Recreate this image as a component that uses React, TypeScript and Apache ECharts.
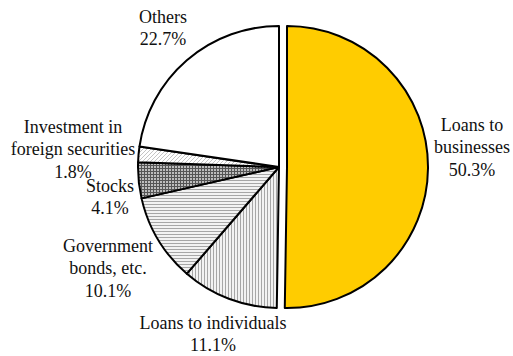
import React, { useEffect, useRef } from "react";
import * as echarts from "echarts";

const categories = [
  "Loans to\nbusinesses",
  "Loans to individuals",
  "Government\nbonds, etc.",
  "Stocks",
  "Investment in\nforeign securities",
  "Others",
];
const values = [50.3, 11.1, 10.1, 4.1, 1.8, 22.7];
const labelCenters: [number, number][] = [
  [472, 147],
  [213, 334],
  [108, 268],
  [110, 197],
  [73, 149],
  [163, 28],
];

function makePattern(kind: string): any {
  const c = document.createElement("canvas");
  const ctx = c.getContext("2d")!;
  if (kind === "v" || kind === "h") {
    c.width = 3;
    c.height = 3;
    ctx.fillStyle = "#f2f2f2";
    ctx.fillRect(0, 0, 3, 3);
    ctx.fillStyle = "#a6a6a6";
    if (kind === "v") ctx.fillRect(0, 0, 1, 3);
    else ctx.fillRect(0, 0, 3, 1);
  } else if (kind === "grid") {
    c.width = 3;
    c.height = 3;
    ctx.fillStyle = "#bdbdbd";
    ctx.fillRect(0, 0, 3, 3);
    ctx.fillStyle = "#555555";
    ctx.fillRect(0, 0, 1, 3);
    ctx.fillRect(0, 0, 3, 1);
  } else {
    c.width = 4;
    c.height = 4;
    ctx.fillStyle = "#ffffff";
    ctx.fillRect(0, 0, 4, 4);
    ctx.fillStyle = "#c4c4c4";
    for (let i = 0; i < 4; i++) ctx.fillRect(3 - i, i, 1, 1);
  }
  return { image: c, repeat: "repeat" };
}

export default function App() {
  const ref = useRef<HTMLDivElement>(null);
  useEffect(() => {
    if (!ref.current) return;
    const chart = echarts.init(ref.current, null, { renderer: "svg" });
    const fills = [
      "#FFCC00",
      makePattern("v"),
      makePattern("h"),
      makePattern("grid"),
      makePattern("d"),
      "#ffffff",
    ];
    const common = {
      type: "pie",
      center: [279, 167],
      radius: 141,
      startAngle: 90,
      clockwise: true,
      emphasis: { disabled: true },
    };
    chart.setOption({
      animation: false,
      backgroundColor: "#ffffff",
      series: [
        {
          ...common,
          selectedMode: "single",
          selectedOffset: 8,
          itemStyle: { borderColor: "#000", borderWidth: 2 },
          label: { show: false },
          labelLine: { show: false },
          data: categories.map((name, i) => ({
            name,
            value: values[i],
            selected: i === 0,
            itemStyle: { color: fills[i] },
          })),
        },
        {
          ...common,
          silent: true,
          selectedMode: false,
          itemStyle: { color: "rgba(0,0,0,0)", borderWidth: 0 },
          label: {
            show: true,
            position: "outside",
            overflow: "none",
            fontFamily: "Liberation Serif, Times New Roman, serif",
            fontSize: 18,
            lineHeight: 22.5,
            color: "#111",
            align: "center",
            formatter: (p: any) => `${p.name}\n${p.value}%`,
          },
          labelLine: { show: false },
          labelLayout: (p: any) => {
            const pos = labelCenters[p.dataIndex];
            return { x: pos[0], y: pos[1], align: "center", verticalAlign: "middle" };
          },
          data: categories.map((name, i) => ({ name, value: values[i] })),
        },
      ],
    });
    return () => chart.dispose();
  }, []);
  return (
    <div
      ref={ref}
      style={{ position: "fixed", left: 0, top: 0, width: 513, height: 356 }}
    />
  );
}
